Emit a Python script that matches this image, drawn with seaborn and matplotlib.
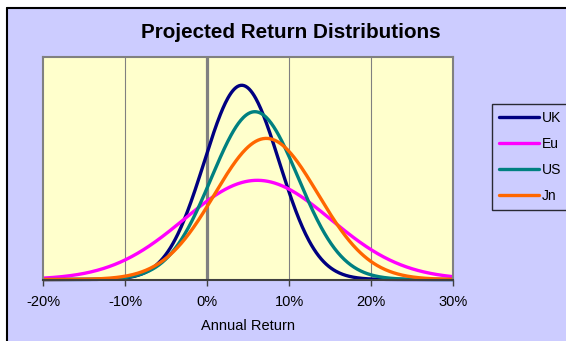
import numpy as np
import pandas as pd
import matplotlib
matplotlib.use("Agg")
import matplotlib.pyplot as plt
from matplotlib.lines import Line2D
from matplotlib.ticker import PercentFormatter
import seaborn as sns

# Projected annual return distributions (normal) per market
markets = ["UK", "Eu", "US", "Jn"]
mean_return = [0.042, 0.061, 0.058, 0.072]
volatility = [0.0457, 0.0895, 0.0529, 0.0629]
line_colors = ["#000080", "#FF00FF", "#008080", "#FF6600"]
x_ticks = [-0.20, -0.10, 0.0, 0.10, 0.20, 0.30]

sns.set_theme(style="white")
plt.rcParams["font.family"] = ["Liberation Sans", "DejaVu Sans"]
plt.rcParams["axes.unicode_minus"] = False

# Density curves evaluated across the return range
grid = np.linspace(-0.20, 0.30, 501)
frames = []
for name, mu, sd in zip(markets, mean_return, volatility):
    dens = np.exp(-0.5 * ((grid - mu) / sd) ** 2) / (sd * np.sqrt(2 * np.pi))
    frames.append(pd.DataFrame({"ret": grid, "density": dens, "market": name}))
df = pd.concat(frames, ignore_index=True)

W, H = 566, 341
fig = plt.figure(figsize=(W / 100, H / 100), dpi=100, facecolor="white")

# Chart area panel with its left/top border
panel_l, panel_t = 7 / W, 1 - 8 / H
fig.add_artist(plt.Rectangle((panel_l, 0), 1 - panel_l, panel_t,
                             transform=fig.transFigure, facecolor="#CCCCFF",
                             edgecolor="none", zorder=-10))
fig.add_artist(Line2D([panel_l, panel_l], [0, panel_t], transform=fig.transFigure,
                      color="black", lw=1.5, zorder=-9))
fig.add_artist(Line2D([panel_l, 1], [panel_t, panel_t], transform=fig.transFigure,
                      color="black", lw=1.5, zorder=-9))

ax = fig.add_axes([43.3 / W, 1 - 279.5 / H, (453.3 - 43.3) / W, (279.5 - 57) / H])
ax.set_facecolor("#FFFFCC")

# Vertical gridlines and the zero axis
for t in x_ticks[1:-1]:
    if t == 0:
        ax.axvline(t, color="#808080", lw=2.3, zorder=1)
    else:
        ax.axvline(t, color="#808080", lw=0.8, zorder=1)

sns.lineplot(data=df, x="ret", y="density", hue="market", hue_order=markets,
             palette=line_colors, lw=2.4, legend=False, ax=ax, sort=False)
for ln in ax.get_lines():
    ln.set_clip_on(False)
    ln.set_solid_capstyle("butt")

ax.set_xlim(-0.20, 0.30)
ax.set_ylim(0, 10)
ax.set_xticks(x_ticks)
ax.xaxis.set_major_formatter(PercentFormatter(1.0, decimals=0))
ax.set_yticks([])
ax.set_ylabel("")
ax.set_xlabel("Annual Return", fontsize=10.5, labelpad=7.5, color="black")
ax.tick_params(axis="x", bottom=True, length=4, width=1, color="#404040",
               labelsize=10.5, pad=7, direction="out", labelcolor="black")

for side in ["left", "top", "right"]:
    ax.spines[side].set_color("#808080")
    ax.spines[side].set_linewidth(1.5)
ax.spines["bottom"].set_color("#404040")
ax.spines["bottom"].set_linewidth(1.5)

fig.text(291 / W, 1 - 32 / H, "Projected Return Distributions", ha="center",
         va="center", fontsize=14.9, fontweight="bold", color="black")

handles = [Line2D([], [], color=c, lw=2.4) for c in line_colors]
leg = fig.legend(handles, markets, loc="upper left",
                 bbox_to_anchor=(492 / W, 1 - 104 / H), fontsize=10,
                 frameon=True, fancybox=False, borderpad=0.5,
                 handlelength=2.9, handletextpad=0.2, labelspacing=0.86,
                 borderaxespad=0)
leg.get_frame().set_facecolor("#CCCCFF")
leg.get_frame().set_edgecolor("black")
leg.get_frame().set_linewidth(1.0)
for txt in leg.get_texts():
    txt.set_color("black")

fig.savefig("out.png", dpi=100, facecolor=fig.get_facecolor())
